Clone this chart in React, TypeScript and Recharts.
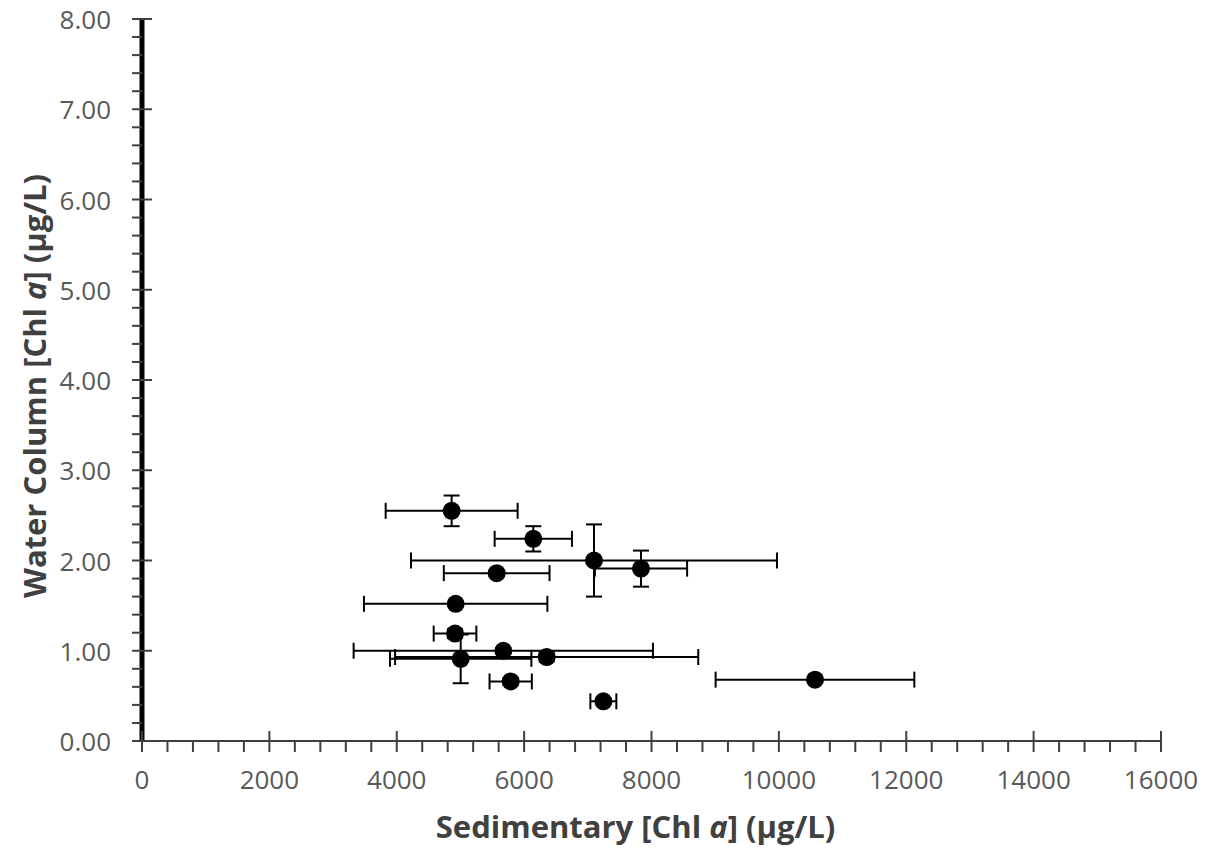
import React from 'react';
import { ScatterChart, Scatter, XAxis, YAxis, ErrorBar, Label } from 'recharts';

// Sedimentary [Chl a] (µg/L) — x values
const sedimentary = [4862, 6144, 7097, 7835, 5569, 4925, 4915, 5673, 5004, 6354, 5789, 7244, 10567];
// Water column [Chl a] (µg/L) — y values
const waterColumn = [2.55, 2.24, 2.0, 1.91, 1.86, 1.52, 1.19, 1.0, 0.91, 0.93, 0.66, 0.44, 0.68];
// error (± std) for each
const sedimentaryErr = [1036, 607, 2873, 724, 830, 1440, 335, 2350, 1110, 2380, 332, 204, 1560];
const waterColumnErr = [0.17, 0.14, 0.4, 0.2, 0.02, 0.02, 0.05, 0.03, 0.27, 0.05, 0.04, 0.03, 0.03];

const xMajorTicks = [0, 2000, 4000, 6000, 8000, 10000, 12000, 14000, 16000];
const yMajorTicks = [0, 1, 2, 3, 4, 5, 6, 7, 8];
const xMinorPerMajor = 5;
const yMinorPerMajor = 5;

const xTicks: number[] = [];
xMajorTicks.forEach((t, i) => {
  if (i === 0) { xTicks.push(t); return; }
  const prev = xMajorTicks[i - 1];
  for (let k = 1; k <= xMinorPerMajor; k++) xTicks.push(Math.round(prev + ((t - prev) * k) / xMinorPerMajor));
});
const yTicks: number[] = [];
yMajorTicks.forEach((t, i) => {
  if (i === 0) { yTicks.push(t); return; }
  const prev = yMajorTicks[i - 1];
  for (let k = 1; k <= yMinorPerMajor; k++) yTicks.push(Math.round((prev + ((t - prev) * k) / yMinorPerMajor) * 100) / 100);
});

const data = sedimentary.map((x, i) => ({
  x,
  y: waterColumn[i],
  xe: sedimentaryErr[i],
  ye: waterColumnErr[i],
}));

const FONT = '"Open Sans", sans-serif';
const TICK_COLOR = '#595959';
const AXIS_COLOR = '#404040';

const XTick = (props: any) => {
  const { x, y, payload } = props;
  const v = payload.value;
  const major = xMajorTicks.includes(v);
  return (
    <g>
      <line x1={x} x2={x} y1={major ? y - 10 : y} y2={y + 11} stroke={AXIS_COLOR} strokeWidth={2} />
      {major && (
        <text x={x} y={y + 38} textAnchor="middle" dominantBaseline="central" fill={TICK_COLOR} fontFamily={FONT} fontSize={26}>
          {String(v)}
        </text>
      )}
    </g>
  );
};

const YTick = (props: any) => {
  const { x, y, payload } = props;
  const v = payload.value;
  const major = yMajorTicks.includes(v);
  return (
    <g>
      <line x1={x - 10} x2={major ? x + 10 : x} y1={y} y2={y} stroke={AXIS_COLOR} strokeWidth={2} />
      {major && (
        <text x={x - 31} y={y} textAnchor="end" dominantBaseline="central" fill={TICK_COLOR} fontFamily={FONT} fontSize={26}>
          {v.toFixed(2)}
        </text>
      )}
    </g>
  );
};

const XTitle = (props: any) => {
  const vb = props.viewBox || {};
  const cx = vb.x + vb.width / 2 - 16;
  const cy = vb.y + 85;
  return (
    <text x={cx} y={cy} textAnchor="middle" dominantBaseline="central" fill={AXIS_COLOR} fontFamily={FONT} fontSize={31} fontWeight="bold">
      Sedimentary [Chl <tspan fontStyle="italic">a</tspan>] (μg/L)
    </text>
  );
};

const YTitle = (props: any) => {
  const vb = props.viewBox || {};
  const cx = vb.x + 26;
  const cy = vb.y + vb.height / 2 + 6;
  return (
    <text x={cx} y={cy} transform={`rotate(-90 ${cx} ${cy})`} textAnchor="middle" dominantBaseline="central" fill={AXIS_COLOR} fontFamily={FONT} fontSize={31} fontWeight="bold">
      Water Column [Chl <tspan fontStyle="italic">a</tspan>] (μg/L)
    </text>
  );
};

const Dot = (props: any) => <circle cx={props.cx} cy={props.cy} r={9} fill="#000" />;

export default function App() {
  return (
    <div style={{ width: 1200, height: 848, marginTop: -8, background: '#fff' }}>
      <ScatterChart width={1200} height={848} margin={{ top: 19, right: 47, bottom: 0, left: 0 }}>
        <XAxis
          type="number"
          dataKey="x"
          domain={[0, 16000]}
          ticks={xTicks}
          interval={0}
          tick={<XTick />}
          tickLine={false}
          tickSize={0}
          tickMargin={0}
          axisLine={{ stroke: AXIS_COLOR, strokeWidth: 2 }}
          height={107}
        >
          <Label content={<XTitle />} />
        </XAxis>
        <YAxis
          type="number"
          dataKey="y"
          domain={[0, 8]}
          ticks={yTicks}
          interval={0}
          tick={<YTick />}
          tickLine={false}
          tickSize={0}
          tickMargin={0}
          axisLine={{ stroke: '#000', strokeWidth: 5 }}
          width={134}
        >
          <Label content={<YTitle />} />
        </YAxis>
        <Scatter data={data} fill="#000" shape={<Dot />} isAnimationActive={false}>
          <ErrorBar dataKey="xe" direction="x" width={8} stroke="#000" strokeWidth={2} />
          <ErrorBar dataKey="ye" direction="y" width={8} stroke="#000" strokeWidth={2} />
        </Scatter>
      </ScatterChart>
    </div>
  );
}
